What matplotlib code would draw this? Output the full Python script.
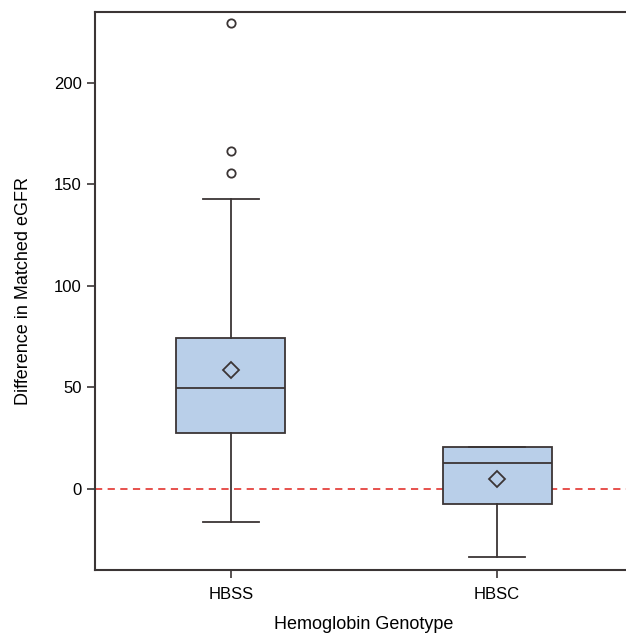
import matplotlib
matplotlib.use("Agg")
import matplotlib.pyplot as plt

plt.rcParams['font.family'] = ['Liberation Sans', 'DejaVu Sans']

# Values
genotypes = ["HBSS", "HBSC"]
q1 = [27.6, -7.4]
medians = [49.8, 12.8]
q3 = [74.4, 20.7]
means = [58.6, 4.9]
whisker_low = [-16.3, -33.5]
whisker_high = [142.9, 20.7]
outliers = [[155.7, 166.5, 229.6], []]

stats = []
for i, g in enumerate(genotypes):
    stats.append({
        'label': g,
        'q1': q1[i], 'med': medians[i], 'q3': q3[i],
        'mean': means[i],
        'whislo': whisker_low[i], 'whishi': whisker_high[i],
        'fliers': outliers[i],
    })

edge = '#3b3535'
fig = plt.figure(figsize=(6.26, 6.34), dpi=100)
ax = fig.add_axes([0.152, 0.101, 0.859, 0.880])

ax.axhline(0, color='#e5433f', linestyle=(0, (4, 3)), linewidth=1.3, zorder=1)

ax.bxp(stats, positions=[1, 2], widths=0.41, patch_artist=True, showmeans=True,
       boxprops=dict(facecolor='#b9cfe9', edgecolor=edge, linewidth=1.3),
       medianprops=dict(color=edge, linewidth=1.3),
       whiskerprops=dict(color=edge, linewidth=1.3),
       capprops=dict(color=edge, linewidth=1.3),
       capwidths=0.21,
       meanprops=dict(marker='D', markerfacecolor='none', markeredgecolor=edge,
                      markersize=8, markeredgewidth=1.3),
       flierprops=dict(marker='o', markerfacecolor='none', markeredgecolor=edge,
                       markersize=6, markeredgewidth=1.3),
       zorder=2)

ax.set_xlim(0.49, 2.51)
ax.set_ylim(-40, 235)
ax.set_yticks([0, 50, 100, 150, 200])
ax.set_xticks([1, 2])
ax.set_xticklabels(genotypes)
ax.tick_params(labelsize=12, color=edge, width=1.2, length=6)
ax.tick_params(axis='x', pad=6)
for s in ax.spines.values():
    s.set_color(edge)
    s.set_linewidth(1.5)
ax.spines['right'].set_visible(False)

ax.set_xlabel("Hemoglobin Genotype", fontsize=13, labelpad=10)
ax.set_ylabel("Difference in Matched eGFR", fontsize=13, labelpad=16)

fig.savefig("out.png", dpi=100)
